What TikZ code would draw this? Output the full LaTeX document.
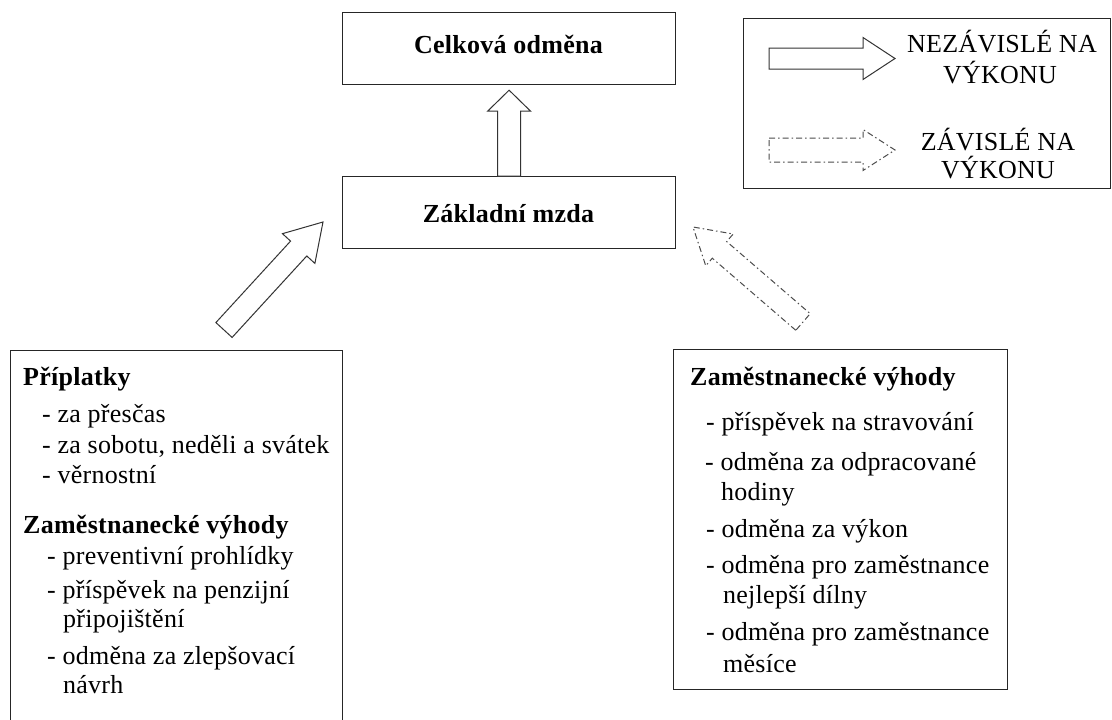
\documentclass[tikz,border=0pt]{standalone}
\usepackage{fontspec}
\setmainfont{Liberation Serif}[LetterSpace=1]
\usetikzlibrary{calc}
\newcommand\blockarrow[6]{%
  \coordinate (bah) at ($(#3)!#6!(#2)$);
  \draw[#1] ($(#2)!#4!90:(#3)$) -- ($(bah)!#4!90:(#3)$) -- ($(bah)!#5!90:(#3)$) -- (#3)
    -- ($(bah)!#5!-90:(#3)$) -- ($(bah)!#4!-90:(#3)$) -- ($(#2)!#4!-90:(#3)$) -- cycle;}
\begin{document}
\begin{tikzpicture}[x=1pt,y=-1pt,
  box/.style={draw=black!85, line width=1.2pt, inner sep=0pt, anchor=north west},
  txt/.style={anchor=base west, inner sep=0pt, font=\fontsize{26}{30}\selectfont},
  hd/.style={anchor=base west, inner sep=0pt, font=\fontsize{26}{30}\selectfont\bfseries},
  lg/.style={anchor=base, inner sep=0pt, font=\fontsize{26}{30}\selectfont},
  solidarr/.style={draw=black!80, line width=1pt, fill=white, line join=miter},
  dasharr/.style={draw=black!70, line width=1pt, fill=white, dash pattern=on 6pt off 3pt on 1.5pt off 3pt}]

\useasboundingbox (0,0) rectangle (1112,720);
\clip (0,0) rectangle (1112,720);
\fill[white] (0,0) rectangle (1112,720);

% boxes
\node[box, minimum width=333pt, minimum height=72pt] (celk) at (342,12) {};
\node[box, minimum width=333pt, minimum height=72pt] (zakl) at (342,176) {};
\node[box, minimum width=367pt, minimum height=170pt] (leg) at (743,18) {};
\node[box, minimum width=332pt, minimum height=390pt] (lbox) at (10,350) {};
\node[box, minimum width=334pt, minimum height=340pt] (rbox) at (673,349) {};

% titles
\node[hd, anchor=base] (celkt) at (508.5,53) {Celková odměna};
\node[hd, anchor=base] (zaklt) at (508.5,222) {Základní mzda};

% legend texts
\node[lg] (lg1) at (1002,52) {NEZÁVISLÉ NA};
\node[lg] (lg2) at (1000,83) {VÝKONU};
\node[lg] (lg3) at (998,150) {ZÁVISLÉ NA};
\node[lg] (lg4) at (998,178) {VÝKONU};

% left box texts
\node[hd]  (l1)  at (23,385) {Příplatky};
\node[txt] (l2)  at (42,422) {- za přesčas};
\node[txt] (l3)  at (42,453) {- za sobotu, neděli a svátek};
\node[txt] (l4)  at (42,483) {- věrnostní};
\node[hd]  (l5)  at (23,533) {Zaměstnanecké výhody};
\node[txt] (l6)  at (47,564) {- preventivní prohlídky};
\node[txt] (l7)  at (47,598) {- příspěvek na penzijní};
\node[txt] (l8)  at (63,627) {připojištění};
\node[txt] (l9)  at (47,664) {- odměna za zlepšovací};
\node[txt] (l10) at (63,693) {návrh};

% right box texts
\node[hd]  (r1) at (690,385) {Zaměstnanecké výhody};
\node[txt] (r2) at (706,430) {- příspěvek na stravování};
\node[txt] (r3) at (705,470) {- odměna za odpracované};
\node[txt] (r4) at (721,500) {hodiny};
\node[txt] (r5) at (706,537) {- odměna za výkon};
\node[txt] (r6) at (706,573) {- odměna pro zaměstnance};
\node[txt] (r7) at (723,603) {nejlepší dílny};
\node[txt] (r8) at (706,640) {- odměna pro zaměstnance};
\node[txt] (r9) at (723,672) {měsíce};

% arrows
\coordinate (a1s) at (zakl.north);
\coordinate (a1e) at ($(celk.south)+(0,5)$);
\blockarrow{solidarr}{a1s}{a1e}{11.5pt}{21.5pt}{21pt}

\coordinate (a2s) at (224,330);
\coordinate (a2e) at (323,222);
\blockarrow{solidarr}{a2s}{a2e}{11pt}{22pt}{36pt}

\coordinate (a3s) at (803,322);
\coordinate (a3e) at (693,227);
\blockarrow{dasharr}{a3s}{a3e}{11pt}{21pt}{35pt}

\coordinate (a4s) at (769,58.5);
\coordinate (a4e) at (895,58.5);
\blockarrow{solidarr}{a4s}{a4e}{10.5pt}{21pt}{32pt}

\coordinate (a5s) at (769,150);
\coordinate (a5e) at (895,150);
\blockarrow{dasharr}{a5s}{a5e}{12pt}{20.5pt}{32pt}
\end{tikzpicture}
\end{document}
